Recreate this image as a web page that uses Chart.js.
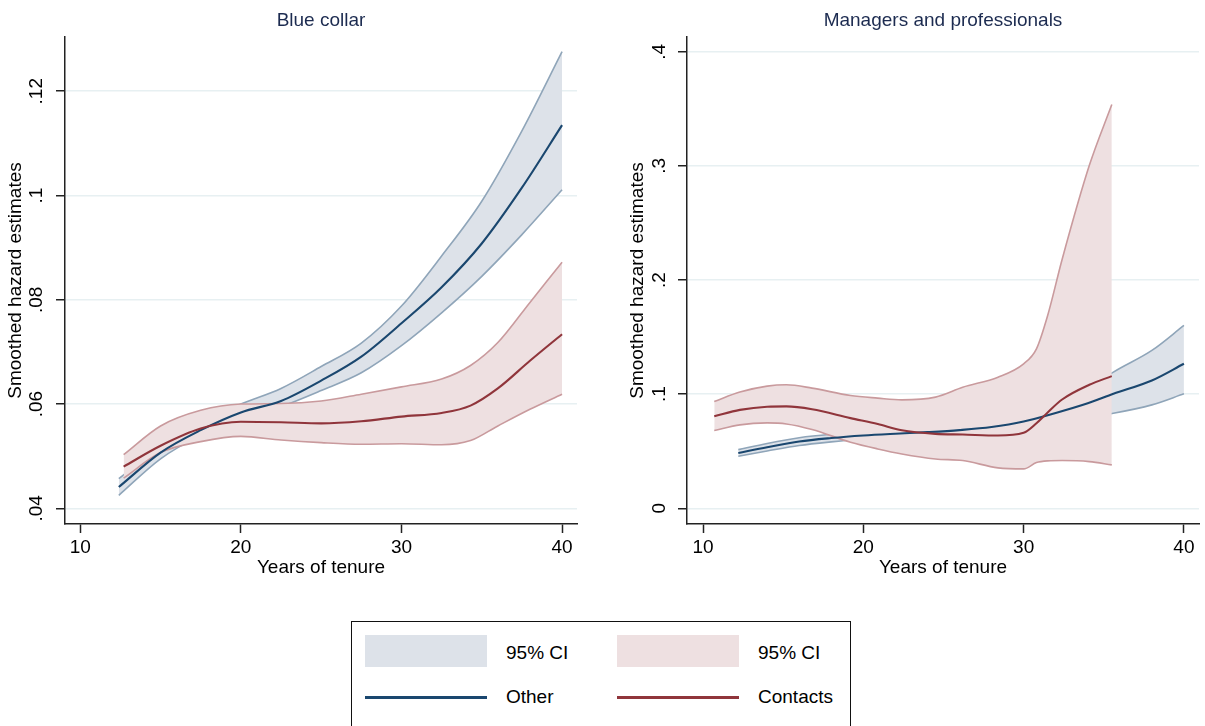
<!DOCTYPE html>
<html>
<head>
<meta charset="utf-8">
<script src="https://cdn.jsdelivr.net/npm/chart.js@4.4.1/dist/chart.umd.min.js"></script>
<style>
  body { margin: 0; background: #fff; width: 1205px; height: 726px; overflow: hidden; position: relative; font-family: "Liberation Sans", Arial, sans-serif; }
  canvas { position: absolute; top: 0; }
  #left { left: 0; }
  #right { left: 605px; }
  .legend { position: absolute; left: 351px; top: 621px; width: 500px; height: 130px; border: 1.5px solid #111; box-sizing: border-box; }
  .sw { position: absolute; }
  .lab { position: absolute; font-size: 19px; color: #000; line-height: 22px; }
</style>
</head>
<body>
<canvas id="left" width="600" height="600"></canvas>
<canvas id="right" width="600" height="600"></canvas>
<div class="legend">
  <div class="sw" style="left:13px;top:13px;width:122px;height:32px;background:#dde2e9"></div>
  <div class="lab" style="left:154px;top:20px">95% CI</div>
  <div class="sw" style="left:265px;top:13px;width:122px;height:32px;background:#eee0e1"></div>
  <div class="lab" style="left:406px;top:20px">95% CI</div>
  <div class="sw" style="left:13px;top:74px;width:122px;height:3px;background:#1a476f"></div>
  <div class="lab" style="left:154px;top:64px">Other</div>
  <div class="sw" style="left:265px;top:74px;width:122px;height:3px;background:#90353b"></div>
  <div class="lab" style="left:406px;top:64px">Contacts</div>
</div>
<script>
// Blue collar panel
const bcOtherX = [12.4, 15, 17.5, 20, 22.5, 25, 27.5, 30, 32.5, 35, 37.5, 40];
const bcOther = [0.0441, 0.0507, 0.0550, 0.0584, 0.0606, 0.0645, 0.0691, 0.0755, 0.0824, 0.0908, 0.1015, 0.1135];
const bcOtherHi = [0.0457, 0.0519, 0.0565, 0.0600, 0.0630, 0.0672, 0.0717, 0.0788, 0.0884, 0.0989, 0.1124, 0.1276];
const bcOtherLo = [0.0425, 0.0495, 0.0540, 0.0571, 0.0595, 0.0626, 0.0660, 0.0712, 0.0775, 0.0845, 0.0925, 0.1011];

const bcContX = [12.7, 15, 17.5, 20, 22.5, 25, 27.5, 30, 32.5, 34.3, 36, 38, 40];
const bcCont = [0.0480, 0.0520, 0.0553, 0.0566, 0.0565, 0.0563, 0.0567, 0.0576, 0.0583, 0.0597, 0.0630, 0.0683, 0.0734];
const bcContHi = [0.0503, 0.0558, 0.0588, 0.0600, 0.0601, 0.0606, 0.0619, 0.0633, 0.0648, 0.0674, 0.0718, 0.0795, 0.0872];
const bcContLo = [0.0458, 0.0507, 0.0528, 0.0538, 0.0531, 0.0526, 0.0523, 0.0524, 0.0522, 0.0530, 0.0558, 0.0590, 0.0619];

// Managers and professionals panel
const mpOtherX = [12.2, 14, 16, 18, 20, 22, 24, 26, 28, 30, 32, 34, 35.6, 38, 40];
const mpOther = [0.0485, 0.0535, 0.0585, 0.0615, 0.0637, 0.0653, 0.0667, 0.0685, 0.0712, 0.0760, 0.0835, 0.0920, 0.1003, 0.1120, 0.1266];
const mpOtherHi = [0.0514, 0.0568, 0.0618, 0.0648, 0.0667, 0.0686, 0.0705, 0.0730, 0.0770, 0.0830, 0.0920, 0.1040, 0.1193, 0.1383, 0.1602];
const mpOtherLo = [0.0456, 0.0502, 0.0550, 0.0582, 0.0607, 0.0620, 0.0630, 0.0642, 0.0657, 0.0690, 0.0745, 0.0800, 0.0833, 0.0906, 0.1003];

const mpContX = [10.7, 12.3, 14, 15.2, 16.8, 19.2, 20.9, 22.4, 24.5, 26.2, 28.4, 30, 30.8, 31.5, 32.4, 34.1, 35.5];
const mpCont = [0.0807, 0.0862, 0.0890, 0.0893, 0.0868, 0.0790, 0.0738, 0.0683, 0.0652, 0.0646, 0.0637, 0.0661, 0.0745, 0.0840, 0.0953, 0.1082, 0.1158];
const mpContHi = [0.0935, 0.1018, 0.1070, 0.1082, 0.1053, 0.0988, 0.0965, 0.0950, 0.0974, 0.1060, 0.1149, 0.1266, 0.1397, 0.1690, 0.2180, 0.3005, 0.3538];
const mpContLo = [0.0681, 0.0731, 0.0748, 0.0739, 0.0690, 0.0579, 0.0520, 0.0476, 0.0432, 0.0418, 0.0354, 0.0345, 0.0400, 0.0415, 0.0418, 0.0409, 0.0380];

// ticks
const xTicks = [10, 20, 30, 40];
const xTickLabels = ["10", "20", "30", "40"];
const bcYTicks = [0.04, 0.06, 0.08, 0.1, 0.12];
const bcYTickLabels = [".04", ".06", ".08", ".1", ".12"];
const mpYTicks = [0, 0.1, 0.2, 0.3, 0.4];
const mpYTickLabels = ["0", ".1", ".2", ".3", ".4"];

const FONT = "'Liberation Sans', Arial, sans-serif";
const navy = "#1a476f", navyCI = "#8fa5b9", navyFill = "#dde2e9";
const maroon = "#90353b", maroonCI = "#c99a9d", maroonFill = "#eee0e1";

const pts = (xs, ys) => xs.map((x, i) => ({ x: x, y: ys[i] }));

const line = (data, color, width, order, fill, bg) => ({
    data: data,
    borderColor: color,
    borderWidth: width,
    backgroundColor: bg || "transparent",
    fill: fill || false,
    order: order,
    pointRadius: 0,
    cubicInterpolationMode: "monotone",
});

const makeChart = (id, p) => {
    const ctx = document.getElementById(id);
    return new Chart(ctx, {
        type: "line",
        data: {
            datasets: [
                line(pts(p.ox, p.oHi), navyCI, 1.6, 6, "+1", navyFill),
                line(pts(p.ox, p.oLo), navyCI, 1.6, 5),
                line(pts(p.cx, p.cHi), maroonCI, 1.6, 4, "+1", maroonFill),
                line(pts(p.cx, p.cLo), maroonCI, 1.6, 3),
                line(pts(p.ox, p.o), navy, 2.1, 2),
                line(pts(p.cx, p.c), maroon, 2.1, 1),
            ],
        },
        options: {
            responsive: false,
            animation: false,
            devicePixelRatio: 1,
            layout: { padding: { left: 0, right: p.padRight, top: 0, bottom: 0 } },
            plugins: {
                legend: { display: false },
                tooltip: { enabled: false },
                title: {
                    display: true,
                    fullSize: false,
                    text: p.title,
                    color: "#1c2b50",
                    font: { family: FONT, size: 19, weight: "normal" },
                    padding: { top: 9, bottom: 5.2 },
                },
            },
            scales: {
                x: {
                    type: "linear",
                    min: p.xMin,
                    max: p.xMax,
                    afterBuildTicks: (s) => { s.ticks = xTicks.map((v) => ({ value: v })); },
                    afterFit: (s) => { s.height = 76; },
                    ticks: {
                        autoSkip: false,
                        maxRotation: 0,
                        padding: 3,
                        color: "#000",
                        font: { family: FONT, size: 19 },
                        callback: (v) => xTickLabels[xTicks.indexOf(v)],
                    },
                    grid: { drawOnChartArea: false, tickLength: 9, tickColor: "#222", tickWidth: 1.5 },
                    border: { color: "#222", width: 1.5 },
                    title: {
                        display: true,
                        text: "Years of tenure",
                        color: "#000",
                        font: { family: FONT, size: 19 },
                        padding: { top: 0, bottom: 20.6 },
                    },
                },
                y: {
                    type: "linear",
                    min: p.yMin,
                    max: p.yMax,
                    afterBuildTicks: (s) => { s.ticks = p.yTicks.map((v) => ({ value: v })); },
                    afterFit: (s) => { s.width = p.yWidth; },
                    ticks: {
                        autoSkip: false,
                        minRotation: 90,
                        maxRotation: 90,
                        crossAlign: "center",
                        padding: p.yPad,
                        color: "#000",
                        font: { family: FONT, size: 19 },
                        callback: (v) => p.yLabels[p.yTicks.findIndex((t) => Math.abs(t - v) < 1e-9)],
                    },
                    grid: { color: "#e7f0f2", lineWidth: 1.5, tickLength: 9, tickColor: "#222", tickWidth: 1.5 },
                    border: { color: "#222", width: 1.5 },
                    title: {
                        display: true,
                        text: "Smoothed hazard estimates",
                        color: "#000",
                        font: { family: FONT, size: 19 },
                        padding: { top: p.yTitlePad, bottom: 0 },
                    },
                },
            },
        },
    });
};

makeChart("left", {
    title: "Blue collar",
    ox: bcOtherX, o: bcOther, oHi: bcOtherHi, oLo: bcOtherLo,
    cx: bcContX, c: bcCont, cHi: bcContHi, cLo: bcContLo,
    xMin: 9.05, xMax: 40.93, yMin: 0.037, yMax: 0.1304,
    yTicks: bcYTicks, yLabels: bcYTickLabels,
    yWidth: 65, yPad: 6, yTitlePad: 4.6, padRight: 23,
});

makeChart("right", {
    title: "Managers and professionals",
    ox: mpOtherX, o: mpOther, oHi: mpOtherHi, oLo: mpOtherLo,
    cx: mpContX, c: mpCont, cHi: mpContHi, cLo: mpContLo,
    xMin: 9.0, xMax: 40.94, yMin: -0.0138, yMax: 0.413,
    yTicks: mpYTicks, yLabels: mpYTickLabels,
    yWidth: 82, yPad: 10, yTitlePad: 21.6, padRight: 6,
});
</script>
</body>
</html>
